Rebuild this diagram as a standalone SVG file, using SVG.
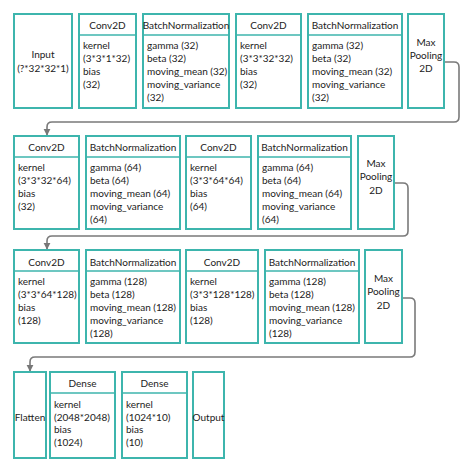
<svg xmlns="http://www.w3.org/2000/svg" width="474" height="473" viewBox="0 0 474 473">
<defs>
<marker id="ah" viewBox="0 0 10 10" refX="9" refY="5" markerWidth="4.5" markerHeight="4.5" orient="auto"><path d="M0,0 L10,5 L0,10 z" fill="#777"/></marker>
<style>
.b{fill:#fff;stroke:#3db5ad;stroke-width:2}
.l{stroke:#3db5ad;stroke-width:1.5}
text{font-family:Lato,"Open Sans","Liberation Sans",sans-serif;font-size:10px;fill:#222}
.c{text-anchor:middle}
.k{fill:none;stroke:#7a7a7a;stroke-width:1.6}
</style>
</defs>
<rect width="474" height="473" fill="#fff"/>
<g id="connectors">
<path class="k" d="M444,62 H454 Q459,62 459,67 V117 Q459,122 454,122 H52 Q47,122 47,127 V135" marker-end="url(#ah)"/>
<path class="k" d="M394,183 H403 Q408,183 408,188 V231 Q408,236 403,236 H52 Q47,236 47,241 V249" marker-end="url(#ah)"/>
<path class="k" d="M402,298 H410 Q415,298 415,303 V352 Q415,357 410,357 H35 Q30,357 30,362 V371" marker-end="url(#ah)"/>
</g>
<!-- Row 1 -->
<g id="input1"><rect class="b" x="14" y="14" width="58" height="94"/><text class="c" x="43" y="58">Input</text><text class="c" x="43" y="72">(?*32*32*1)</text></g>
<g id="conv1"><rect class="b" x="79" y="14" width="57" height="94"/><line class="l" x1="79" y1="35" x2="136" y2="35"/><text class="c" x="107.5" y="28.5">Conv2D</text><text x="83" y="48.5">kernel</text><text x="83" y="61.5">(3*3*1*32)</text><text x="83" y="74.5">bias</text><text x="83" y="87.5">(32)</text></g>
<g id="bn1"><rect class="b" x="143" y="14" width="86" height="94"/><line class="l" x1="143" y1="35" x2="229" y2="35"/><text class="c" x="186" y="28.5">BatchNormalization</text><text x="147" y="48.5">gamma (32)</text><text x="147" y="61.5">beta (32)</text><text x="147" y="74.5">moving_mean (32)</text><text x="147" y="87.5">moving_variance</text><text x="147" y="101">(32)</text></g>
<g id="conv2"><rect class="b" x="236" y="14" width="65" height="94"/><line class="l" x1="236" y1="35" x2="301" y2="35"/><text class="c" x="268.5" y="28.5">Conv2D</text><text x="240" y="48.5">kernel</text><text x="240" y="61.5">(3*3*32*32)</text><text x="240" y="74.5">bias</text><text x="240" y="87.5">(32)</text></g>
<g id="bn2"><rect class="b" x="308" y="14" width="94" height="94"/><line class="l" x1="308" y1="35" x2="402" y2="35"/><text class="c" x="355" y="28.5">BatchNormalization</text><text x="312" y="48.5">gamma (32)</text><text x="312" y="61.5">beta (32)</text><text x="312" y="74.5">moving_mean (32)</text><text x="312" y="87.5">moving_variance</text><text x="312" y="101">(32)</text></g>
<g id="pool1"><rect class="b" x="408" y="14" width="36" height="94"/><text class="c" x="426" y="45.5">Max</text><text class="c" x="426" y="58.5">Pooling</text><text class="c" x="426" y="72">2D</text></g>
<!-- Row 2 -->
<g id="conv3"><rect class="b" x="14" y="136" width="65" height="93"/><line class="l" x1="14" y1="157" x2="79" y2="157"/><text class="c" x="46.5" y="150.5">Conv2D</text><text x="18" y="170.5">kernel</text><text x="18" y="183.5">(3*3*32*64)</text><text x="18" y="196.5">bias</text><text x="18" y="210">(32)</text></g>
<g id="bn3"><rect class="b" x="86" y="136" width="94" height="93"/><line class="l" x1="86" y1="157" x2="180" y2="157"/><text class="c" x="133" y="150.5">BatchNormalization</text><text x="90" y="170.5">gamma (64)</text><text x="90" y="183.5">beta (64)</text><text x="90" y="196.5">moving_mean (64)</text><text x="90" y="210">moving_variance</text><text x="90" y="223">(64)</text></g>
<g id="conv4"><rect class="b" x="186" y="136" width="65" height="93"/><line class="l" x1="186" y1="157" x2="251" y2="157"/><text class="c" x="218.5" y="150.5">Conv2D</text><text x="190" y="170.5">kernel</text><text x="190" y="183.5">(3*3*64*64)</text><text x="190" y="196.5">bias</text><text x="190" y="210">(64)</text></g>
<g id="bn4"><rect class="b" x="258" y="136" width="93" height="93"/><line class="l" x1="258" y1="157" x2="351" y2="157"/><text class="c" x="304.5" y="150.5">BatchNormalization</text><text x="262" y="170.5">gamma (64)</text><text x="262" y="183.5">beta (64)</text><text x="262" y="196.5">moving_mean (64)</text><text x="262" y="210">moving_variance</text><text x="262" y="223">(64)</text></g>
<g id="pool2"><rect class="b" x="358" y="136" width="36" height="93"/><text class="c" x="376" y="166.5">Max</text><text class="c" x="376" y="180">Pooling</text><text class="c" x="376" y="194">2D</text></g>
<!-- Row 3 -->
<g id="conv5"><rect class="b" x="14" y="250" width="65" height="93"/><line class="l" x1="14" y1="271" x2="79" y2="271"/><text class="c" x="46.5" y="265.5">Conv2D</text><text x="18" y="284.5">kernel</text><text x="18" y="297.5">(3*3*64*128)</text><text x="18" y="310.5">bias</text><text x="18" y="323.5">(128)</text></g>
<g id="bn5"><rect class="b" x="86" y="250" width="94" height="93"/><line class="l" x1="86" y1="271" x2="180" y2="271"/><text class="c" x="133" y="265.5">BatchNormalization</text><text x="90" y="284.5">gamma (128)</text><text x="90" y="297.5">beta (128)</text><text x="90" y="310.5">moving_mean (128)</text><text x="90" y="323.5">moving_variance</text><text x="90" y="337">(128)</text></g>
<g id="conv6"><rect class="b" x="186" y="250" width="72" height="93"/><line class="l" x1="186" y1="271" x2="258" y2="271"/><text class="c" x="222" y="265.5">Conv2D</text><text x="190" y="284.5">kernel</text><text x="190" y="297.5">(3*3*128*128)</text><text x="190" y="310.5">bias</text><text x="190" y="323.5">(128)</text></g>
<g id="bn6"><rect class="b" x="265" y="250" width="94" height="93"/><line class="l" x1="265" y1="271" x2="359" y2="271"/><text class="c" x="312" y="265.5">BatchNormalization</text><text x="269" y="284.5">gamma (128)</text><text x="269" y="297.5">beta (128)</text><text x="269" y="310.5">moving_mean (128)</text><text x="269" y="323.5">moving_variance</text><text x="269" y="337">(128)</text></g>
<g id="pool3"><rect class="b" x="365" y="250" width="37" height="93"/><text class="c" x="383.5" y="281.5">Max</text><text class="c" x="383.5" y="294.5">Pooling</text><text class="c" x="383.5" y="308.5">2D</text></g>
<!-- Row 4 -->
<g id="flatten"><rect class="b" x="14" y="372" width="32" height="86"/><text class="c" x="30" y="420.5">Flatten</text></g>
<g id="dense1"><rect class="b" x="50" y="372" width="65" height="86"/><line class="l" x1="50" y1="393" x2="115" y2="393"/><text class="c" x="82.5" y="386.5">Dense</text><text x="54" y="407.5">kernel</text><text x="54" y="420.5">(2048*2048)</text><text x="54" y="433">bias</text><text x="54" y="446">(1024)</text></g>
<g id="dense2"><rect class="b" x="122" y="372" width="65" height="86"/><line class="l" x1="122" y1="393" x2="187" y2="393"/><text class="c" x="154.5" y="386.5">Dense</text><text x="126" y="407.5">kernel</text><text x="126" y="420.5">(1024*10)</text><text x="126" y="433">bias</text><text x="126" y="446">(10)</text></g>
<g id="output"><rect class="b" x="193" y="372" width="31" height="86"/><text class="c" x="208.5" y="420.5">Output</text></g>
</svg>
